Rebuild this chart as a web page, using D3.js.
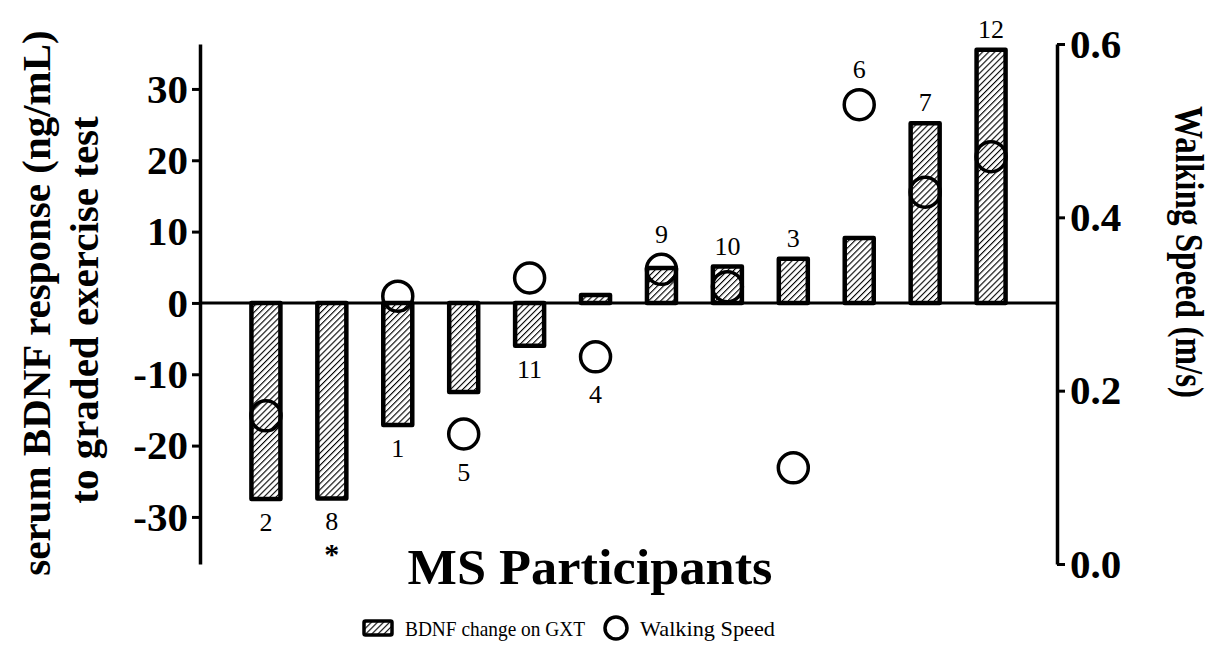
<!DOCTYPE html>
<html>
<head>
<meta charset="utf-8">
<script src="https://cdn.jsdelivr.net/npm/d3@7"></script>
<style>
  body { margin: 0; background: #fff; }
  svg { display: block; }
  text { font-family: "Liberation Serif", "Times New Roman", serif; fill: #000; }
</style>
</head>
<body>
<div id="chart"></div>
<script>
// participants in plotted order
const participants = ["2", "8", "1", "5", "11", "4", "9", "10", "3", "6", "7", "12"];
// serum BDNF change on GXT (ng/mL)
const bdnfChange = [-27.5, -27.4, -17.1, -12.5, -6.0, 1.1, 4.9, 5.1, 6.2, 9.1, 25.2, 35.5];
// walking speed (m/s), null = not measured
const walkingSpeed = [0.171, null, 0.309, 0.150, 0.330, 0.239, 0.340, 0.320, 0.111, 0.530, 0.429, 0.470];
const leftTicks = [-30, -20, -10, 0, 10, 20, 30];
const rightTicks = [0.0, 0.2, 0.4, 0.6];
const starred = ["8"];

const rows = participants.map((p, i) => ({ id: p, bdnf: bdnfChange[i], speed: walkingSpeed[i] }));

const W = 1220, H = 647;
const svg = d3.select("#chart").append("svg")
  .attr("width", W)
  .attr("height", H);

// hatch pattern for bars
const defs = svg.append("defs");
const hatch = defs.append("pattern")
  .attr("id", "hatch")
  .attr("patternUnits", "userSpaceOnUse")
  .attr("width", 4.3).attr("height", 4.3)
  .attr("patternTransform", "rotate(45)");
hatch.append("rect").attr("width", 4.3).attr("height", 4.3).attr("fill", "#fff");
hatch.append("line")
  .attr("x1", 0).attr("y1", 0).attr("x2", 0).attr("y2", 4.3)
  .attr("stroke", "#000").attr("stroke-width", 2.2);

const x0 = 200, x1 = 1057, yTop = 44, yBot = 564;

const x = d3.scalePoint()
  .domain(participants)
  .range([x0, x1])
  .padding(1);

const y = d3.scaleLinear().domain([-36.6, 36.3]).range([yBot, yTop]);
const yR = d3.scaleLinear().domain([0, 0.6]).range([yBot, yTop]);

const barW = 29, r = 15;

// bars
svg.selectAll(".bar")
  .data(rows)
  .enter()
  .append("rect")
  .attr("class", "bar")
  .attr("x", d => x(d.id) - barW / 2)
  .attr("y", d => y(Math.max(0, d.bdnf)))
  .attr("width", barW)
  .attr("height", d => Math.abs(y(d.bdnf) - y(0)))
  .attr("fill", "url(#hatch)")
  .attr("stroke", "#000")
  .attr("stroke-width", 4.5)
  .attr("stroke-linejoin", "round");

// zero line
svg.append("line")
  .attr("x1", x0).attr("x2", x1)
  .attr("y1", y(0)).attr("y2", y(0))
  .attr("stroke", "#000").attr("stroke-width", 3);

// walking speed circles (no fill)
svg.selectAll(".speed")
  .data(rows.filter(d => d.speed != null))
  .enter()
  .append("circle")
  .attr("class", "speed")
  .attr("cx", d => x(d.id))
  .attr("cy", d => yR(d.speed))
  .attr("r", r)
  .attr("fill", "none")
  .attr("stroke", "#000")
  .attr("stroke-width", 3.5);

// participant labels: above for clear rises, below otherwise
const labelY = d => {
  const cy = d.speed != null ? yR(d.speed) : null;
  if (d.bdnf >= 3) {
    let top = y(d.bdnf) - 2;
    if (cy != null) top = Math.min(top, cy - r - 1.5);
    return top - 10;
  }
  let bottom = y(Math.min(0, d.bdnf)) + 2;
  if (cy != null) bottom = Math.max(bottom, cy + r + 1.5);
  return bottom + 30;
};

svg.selectAll(".plabel")
  .data(rows)
  .enter()
  .append("text")
  .attr("class", "plabel")
  .attr("x", d => x(d.id))
  .attr("y", labelY)
  .attr("text-anchor", "middle")
  .attr("font-size", "26px")
  .text(d => d.id);

svg.selectAll(".star")
  .data(rows.filter(d => starred.includes(d.id)))
  .enter()
  .append("text")
  .attr("x", d => x(d.id))
  .attr("y", d => labelY(d) + 34)
  .attr("text-anchor", "middle")
  .attr("font-size", "30px")
  .attr("font-weight", "bold")
  .text("*");

// left axis (plain hyphen for negatives, as in the original)
const gL = svg.append("g")
  .attr("transform", `translate(${x0},0)`)
  .call(d3.axisLeft(y).tickValues(leftTicks).tickSize(8).tickSizeOuter(0).tickPadding(4)
    .tickFormat(d => String(d)));

// right axis
const gR = svg.append("g")
  .attr("transform", `translate(${x1},0)`)
  .call(d3.axisRight(yR).tickValues(rightTicks).tickSize(8).tickSizeOuter(0).tickPadding(5)
    .tickFormat(d => d.toFixed(1)));

[gL, gR].forEach(g => {
  g.select(".domain").attr("stroke-width", 3.5);
  g.selectAll(".tick line").attr("stroke-width", 3);
  g.selectAll(".tick text")
    .attr("font-family", "'Liberation Serif', 'Times New Roman', serif")
    .attr("font-size", "41px")
    .attr("font-weight", "bold")
    .attr("fill", "#000");
});

// axis titles
svg.append("text")
  .attr("transform", "translate(50,303) rotate(-90)")
  .attr("text-anchor", "middle")
  .attr("font-size", "41px")
  .attr("font-weight", "bold")
  .text("serum BDNF response (ng/mL)");

svg.append("text")
  .attr("transform", "translate(98,310) rotate(-90)")
  .attr("text-anchor", "middle")
  .attr("font-size", "41px")
  .attr("font-weight", "bold")
  .text("to graded exercise test");

svg.append("text")
  .attr("transform", "translate(1176,252) rotate(90)")
  .attr("text-anchor", "middle")
  .attr("font-size", "40px")
  .attr("font-weight", "bold")
  .attr("textLength", 292)
  .attr("lengthAdjust", "spacingAndGlyphs")
  .text("Walking Speed (m/s)");

svg.append("text")
  .attr("x", 590)
  .attr("y", 584)
  .attr("text-anchor", "middle")
  .attr("font-size", "50px")
  .attr("font-weight", "bold")
  .attr("textLength", 365)
  .attr("lengthAdjust", "spacingAndGlyphs")
  .text("MS Participants");

// legend
const leg = svg.append("g").attr("transform", "translate(0,628)");
leg.append("rect")
  .attr("x", 364).attr("y", -7)
  .attr("width", 28).attr("height", 14)
  .attr("fill", "url(#hatch)")
  .attr("stroke", "#000").attr("stroke-width", 3.5)
  .attr("rx", 1.5);
leg.append("text")
  .attr("x", 405).attr("y", 8)
  .attr("font-size", "21px")
  .attr("textLength", 180)
  .attr("lengthAdjust", "spacingAndGlyphs")
  .text("BDNF change on GXT");
leg.append("circle")
  .attr("cx", 616).attr("cy", 0).attr("r", 11)
  .attr("fill", "none")
  .attr("stroke", "#000").attr("stroke-width", 3.5);
leg.append("text")
  .attr("x", 640).attr("y", 8)
  .attr("font-size", "21px")
  .attr("textLength", 135)
  .attr("lengthAdjust", "spacingAndGlyphs")
  .text("Walking Speed");
</script>
</body>
</html>
